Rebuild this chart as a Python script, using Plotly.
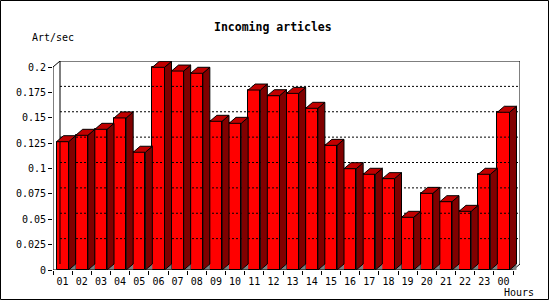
import plotly.graph_objects as go

# ---- data ----
hours = ["01", "02", "03", "04", "05", "06", "07", "08", "09", "10", "11", "12",
         "13", "14", "15", "16", "17", "18", "19", "20", "21", "22", "23", "00"]
art_per_sec = [0.1264, 0.1327, 0.1386, 0.1498, 0.1160, 0.1997, 0.1960, 0.1938,
               0.1465, 0.1445, 0.1773, 0.1717, 0.1740, 0.1593, 0.1228, 0.0998,
               0.0943, 0.0900, 0.0519, 0.0755, 0.0673, 0.0578, 0.0943, 0.1554]
y_ticks = [0, 0.025, 0.05, 0.075, 0.1, 0.125, 0.15, 0.175, 0.2]
y_tick_text = ["0", "0.025", "0.05", "0.075", "0.1", "0.125", "0.15", "0.175", "0.2"]

# ---- 3D geometry (in axis units) ----
W, H = 550, 300
L, R, T, B = 53, 30, 61, 30
plot_w = W - L - R
plot_h = H - T - B
n = len(hours)
dx_px, dy_px = 7, 6
unit_px = (plot_w - dx_px) / n
DX = dx_px / unit_px
ymax = 0.2
DY = ymax * dy_px / (plot_h - dy_px)
HW = (1 - DX) / 2  # half width of bar front

xs = list(range(n))
FONT = "DejaVu Sans Mono"

fig = go.Figure()

# dotted grid on back wall
gx, gy = [], []
for v in y_ticks[1:-1]:
    gx += [-0.5 + DX, n - 0.5 + DX, None]
    gy += [v + DY, v + DY, None]
fig.add_trace(go.Scatter(x=gx, y=gy, mode="lines",
                         line=dict(color="black", width=1, dash="2px,2px"),
                         hoverinfo="skip", showlegend=False))

# back frame
fig.add_trace(go.Scatter(
    x=[-0.5 + DX, -0.5 + DX, n - 0.5 + DX, n - 0.5 + DX, None, -0.5, -0.5 + DX, None, n - 0.5, n - 0.5 + DX],
    y=[DY, ymax + DY, ymax + DY, DY, None, ymax, ymax + DY, None, 0, DY],
    mode="lines", line=dict(color="black", width=1),
    hoverinfo="skip", showlegend=False))

# floor triangles
fx, fy = [], []
for c in xs:
    fx += [c + HW, c + HW + DX, c + HW + DX, c + HW, None]
    fy += [0, DY, 0, 0, None]
fig.add_trace(go.Scatter(x=fx, y=fy, mode="lines", fill="toself",
                         fillcolor="#808080", line=dict(width=0, color="#808080"),
                         hoverinfo="skip", showlegend=False))

# front faces
fig.add_trace(go.Bar(x=xs, y=art_per_sec, width=2 * HW,
                     marker=dict(color="#FF0000", line=dict(color="black", width=1)),
                     showlegend=False))

# side faces
sx, sy = [], []
for c, v in zip(xs, art_per_sec):
    sx += [c + HW, c + HW, c + HW + DX, c + HW + DX, c + HW, None]
    sy += [0, v, v + DY, DY, 0, None]
fig.add_trace(go.Scatter(x=sx, y=sy, mode="lines", fill="toself",
                         fillcolor="#800000", line=dict(color="black", width=1),
                         hoverinfo="skip", showlegend=False))

# top faces
tx, ty = [], []
for c, v in zip(xs, art_per_sec):
    tx += [c - HW, c + HW, c + HW + DX, c - HW + DX, c - HW, None]
    ty += [v, v, v + DY, v + DY, v, None]
fig.add_trace(go.Scatter(x=tx, y=ty, mode="lines", fill="toself",
                         fillcolor="#C00000", line=dict(color="black", width=1),
                         hoverinfo="skip", showlegend=False))

# front axes lines
fig.add_trace(go.Scatter(x=[-0.5, -0.5, n - 0.5], y=[ymax, 0, 0], mode="lines",
                         line=dict(color="black", width=1),
                         hoverinfo="skip", showlegend=False))

fig.update_layout(
    width=W, height=H,
    margin=dict(l=L, r=R, t=T, b=B),
    paper_bgcolor="white", plot_bgcolor="white",
    bargap=0,
    font=dict(family=FONT, size=10, color="black"),
    xaxis=dict(range=[-0.5, n - 0.5 + DX], tickmode="array", tickvals=xs, ticktext=hours,
               ticks="", showgrid=False, zeroline=False, showline=False,
               ticklabelstandoff=4,
               tickfont=dict(family=FONT, size=10),
               minor=dict(tickmode="array", tickvals=[i - 0.5 for i in range(n + 1)],
                          ticks="outside", ticklen=4, tickcolor="black", showgrid=False)),
    yaxis=dict(range=[0, ymax + DY], tickmode="array", tickvals=y_ticks, ticktext=y_tick_text,
               ticks="outside", ticklen=4, tickcolor="black", showgrid=False,
               zeroline=False, showline=False, tickfont=dict(family=FONT, size=10)),
    shapes=[dict(type="rect", xref="paper", yref="paper",
                 x0=(0.5 - L) / plot_w, x1=(W - 1.5 - L) / plot_w,
                 y0=(H - B - (H - 0.5)) / plot_h, y1=(H - B - 0.5) / plot_h,
                 line=dict(color="black", width=1))],
    annotations=[
        dict(text="<b>Incoming articles</b>", xref="paper", yref="paper",
             x=(273 - L) / plot_w, y=(H - B - 27) / plot_h, showarrow=False,
             xanchor="center", yanchor="middle", font=dict(family=FONT, size=11.5)),
        dict(text="Art/sec", xref="paper", yref="paper",
             x=(30 - L) / plot_w, y=(H - B - 37) / plot_h, showarrow=False,
             xanchor="left", yanchor="middle", font=dict(family=FONT, size=10)),
        dict(text="Hours", xref="paper", yref="paper",
             x=(519 - L) / plot_w, y=(H - B - 292) / plot_h, showarrow=False,
             xanchor="center", yanchor="middle", font=dict(family=FONT, size=10)),
    ],
)

fig.write_html("out.html")
